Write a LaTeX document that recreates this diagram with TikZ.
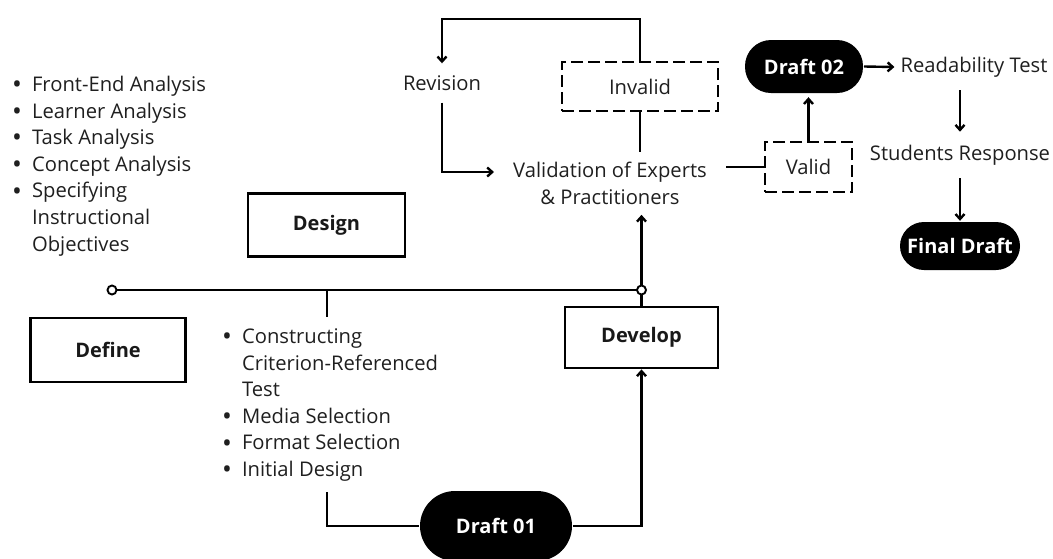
\documentclass[tikz,border=0pt]{standalone}
\usepackage{fontspec}
\usepackage{graphicx}
\setmainfont{Open Sans}
\usetikzlibrary{arrows.meta,calc}
\newcommand{\bul}{\raisebox{-0.11em}{\scalebox{1.3}{\textbullet}}}
\begin{document}
\begin{tikzpicture}[x=1pt,y=-1pt,
  line width=2.4pt,
  txt/.style={font=\fontsize{20.2}{26.6}\selectfont, text=black!88, inner xsep=0pt, inner ysep=0pt},
  stagebox/.style={draw, line width=2.8pt, font=\fontsize{20}{22}\selectfont\bfseries, text=black!90},
  pill/.style={fill=black, text=white, font=\fontsize{20}{22}\selectfont\bfseries},
  dbox/.style={draw, line width=2.6pt, dash pattern=on 12pt off 5pt, font=\fontsize{20.2}{22}\selectfont, text=black!88},
  arr/.style={-{Straight Barb[length=5pt,width=9pt]}},
  joint/.style={draw, fill=white, line width=1.9pt, circle, inner sep=0pt, minimum size=9pt}
]
\useasboundingbox (0,0) rectangle (1053,558);

% stage boxes
\node[stagebox, minimum width=157pt, minimum height=63pt] (design) at (326.5,225) {Design};
\node[stagebox, minimum width=155pt, minimum height=64pt] (define) at (108,350) {Define};
\node[stagebox, minimum width=153pt, minimum height=61pt] (develop) at (641.5,337.5) {Develop};

% lists
\node[txt, anchor=base west] (list1) at (11,91.5) {%
\begin{tabular}[t]{@{}l@{\hspace{10pt}}l@{}}
\bul & Front-End Analysis\\
\bul & Learner Analysis\\
\bul & Task Analysis\\
\bul & Concept Analysis\\
\bul & Specifying\\
 & Instructional\\
 & Objectives
\end{tabular}};
\node[txt, anchor=base west] (list2) at (221,343.5) {%
\begin{tabular}[t]{@{}l@{\hspace{10pt}}l@{}}
\bul & Constructing\\
 & Criterion-Referenced\\
 & Test\\
\bul & Media Selection\\
\bul & Format Selection\\
\bul & Initial Design
\end{tabular}};

% upper texts
\node[txt, inner ysep=11pt] (rev) at (442,83) {Revision};
\node[txt, align=center, inner xsep=18pt, inner ysep=9pt] (val) at (610,183.5) {Validation of Experts\\ \& Practitioners};
\node[dbox, minimum width=156pt, minimum height=49pt] (inv) at (640,86.5) {Invalid};
\node[dbox, minimum width=87pt, minimum height=50pt] (valid) at (808.5,167) {Valid};
\node[pill, minimum width=118pt, minimum height=53pt, rounded corners=26pt] (d2) at (804,66.5) {Draft 02};
\node[txt, inner xsep=5pt, inner ysep=12pt] (read) at (974,67) {Readability Test};
\node[txt, inner ysep=12pt] (stud) at (960,155) {Students Response};
\node[pill, minimum width=120pt, minimum height=48pt, rounded corners=24pt] (final) at (960,246) {Final Draft};
\node[pill, minimum width=152pt, minimum height=70pt, rounded corners=35pt] (d1) at (496,526) {Draft 01};

% timeline
\coordinate (jl) at (112,290);
\coordinate (jr) at (641.5,290);
\coordinate (jt) at (327,290);
\coordinate (jtend) at (327,317);
\coordinate (l2end) at (327,492);
\draw (jl) -- (jr);
\draw (jt) -- (jtend);

% connectors
\draw (l2end) |- (d1.west);
\draw[arr] (d1.east) -| (develop.south);
\draw[arr] (develop.north) -- (develop.north |- val.south);
\draw[arr] (rev.south) |- ($(val.west)+(0,-11.5)$);
\draw (inv.south) -- (inv.south |- val.north);
\draw[arr] (inv.north) -- ++(0,-42) -| (rev.north);
\draw (valid.west -| val.east) -- (valid.west);
\draw[arr, shorten >=3pt] (valid.north) -- (valid.north |- d2.south);
\draw[arr] (d2.east) -- (read.west);
\draw[arr] (stud.north |- read.south) -- (stud.north);
\draw[arr] (stud.south) -- (final.north);

% joints
\node[joint] (cl) at (jl) {};
\node[joint] (cr) at (jr) {};
\end{tikzpicture}
\end{document}
